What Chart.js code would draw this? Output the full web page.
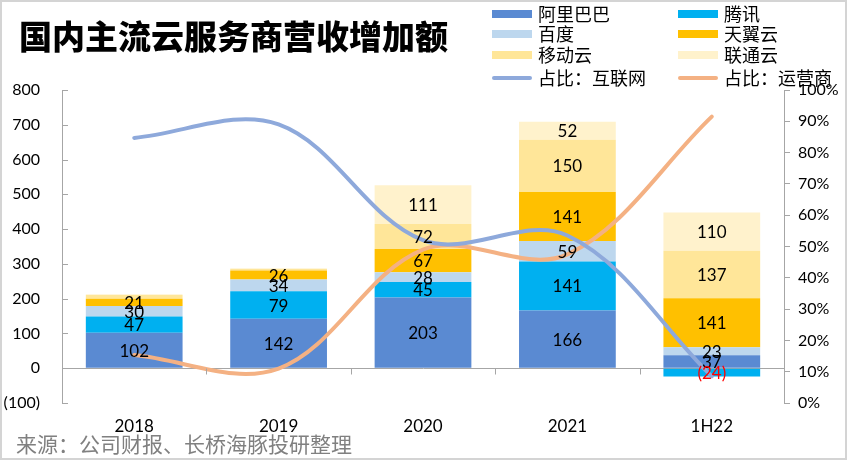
<!DOCTYPE html>
<html>
<head>
<meta charset="utf-8">
<script src="https://cdn.jsdelivr.net/npm/chart.js@4"></script>
<style>
  html,body{margin:0;padding:0;background:#fff;}
  #wrap{position:relative;width:847px;height:460px;overflow:hidden;background:#fff;}
  #frame{position:absolute;left:0;top:0;width:843px;height:456px;border:2px solid #d4d4d4;pointer-events:none;}
  #title{position:absolute;left:19px;top:11px;font-family:"Noto Sans CJK SC";font-weight:900;font-size:33px;color:#000;letter-spacing:0px;white-space:nowrap;}
  #source{position:absolute;left:16px;top:429px;font-family:"Noto Sans CJK SC";font-size:21px;color:#808080;white-space:nowrap;line-height:28px;}
  .lg{position:absolute;font-family:"Noto Sans CJK SC";font-size:18px;color:#000;white-space:nowrap;line-height:20px;}
  .sw{position:absolute;width:40px;height:8px;}
  .ln{position:absolute;width:40px;height:4px;border-radius:2px;}
  canvas{position:absolute;left:0;top:0;}
</style>
</head>
<body>
<div id="wrap">
  <canvas id="c" width="847" height="460"></canvas>
  <div id="title">国内主流云服务商营收增加额</div>
  <div id="source">来源：公司财报、长桥海豚投研整理</div>
  <div id="legend"></div>
  <div id="frame"></div>
</div>
<script>
const categories = ['2018', '2019', '2020', '2021', '1H22'];
const alibaba  = [102, 142, 203, 166, 37];
const tencent  = [47, 79, 45, 141, -24];
const baidu    = [30, 34, 28, 59, 23];
const tianyi   = [21, 26, 67, 141, 141];
const mobile   = [11, 5, 72, 150, 137];
const unicom   = [1, 1, 111, 52, 110];
const shareInternet = [0.847, 0.89, 0.52, 0.535, 0.085];
const shareOperator = [0.153, 0.11, 0.49, 0.475, 0.915];
const leftTicks = { min: -100, max: 800, step: 100 };
const rightTicks = { min: 0, max: 1, step: 0.1 };

const barSeries = [
  { name: '阿里巴巴', data: alibaba, color: '#5A8AD2' },
  { name: '腾讯', data: tencent, color: '#00B0F0' },
  { name: '百度', data: baidu, color: '#BDD7EE' },
  { name: '天翼云', data: tianyi, color: '#FFC000' },
  { name: '移动云', data: mobile, color: '#FFE699' },
  { name: '联通云', data: unicom, color: '#FFF2CC' }
];
const lineSeries = [
  { name: '占比：互联网', data: shareInternet, color: '#8EA9DB' },
  { name: '占比：运营商', data: shareOperator, color: '#F4B183' }
];

(function(){
  const lg = document.getElementById('legend');
  const items = [];
  barSeries.forEach(s => items.push({name: s.name, color: s.color, kind: 'bar'}));
  lineSeries.forEach(s => items.push({name: s.name, color: s.color, kind: 'line'}));
  const colX = [492, 678];
  const rowY = [14, 34, 55, 78];
  items.forEach((it, i) => {
    const col = i % 2, row = Math.floor(i / 2);
    const x = colX[col], y = rowY[row];
    const sw = document.createElement('div');
    sw.className = it.kind === 'bar' ? 'sw' : 'ln';
    sw.style.background = it.color;
    sw.style.left = x + 'px';
    sw.style.top = (y - (it.kind === 'bar' ? 4 : 2)) + 'px';
    lg.appendChild(sw);
    const t = document.createElement('div');
    t.className = 'lg';
    t.textContent = it.name;
    t.style.left = (x + 46) + 'px';
    t.style.top = (y - 11) + 'px';
    lg.appendChild(t);
  });
})();

const datasets = [];
barSeries.forEach(s => datasets.push({
  type: 'bar', label: s.name, data: s.data, backgroundColor: s.color,
  borderWidth: 0, stack: 's', yAxisID: 'y', order: 2,
  barPercentage: 0.67, categoryPercentage: 1.0
}));
lineSeries.forEach(s => datasets.push({
  type: 'line', label: s.name, data: s.data, borderColor: s.color,
  borderWidth: 4, pointRadius: 0, tension: 0.35, yAxisID: 'y1', order: 1,
  fill: false, borderCapStyle: 'round', borderJoinStyle: 'round'
}));

const axisColor = '#a6a6a6';
const decoPlugin = {
  id: 'deco',
  afterDraw(chart) {
    const ctx = chart.ctx;
    const ys = chart.scales.y, xs = chart.scales.x;
    const area = chart.chartArea;
    ctx.save();
    ctx.strokeStyle = axisColor;
    ctx.lineWidth = 1;
    ys.ticks.forEach(t => {
      const py = Math.round(ys.getPixelForValue(t.value)) + 0.5;
      ctx.beginPath();
      ctx.moveTo(area.left, py);
      ctx.lineTo(area.left + 6, py);
      ctx.stroke();
    });
    const zy = Math.round(ys.getPixelForValue(0)) + 0.5;
    for (let i = 0; i < categories.length - 1; i++) {
      const px = Math.round((xs.getPixelForValue(i) + xs.getPixelForValue(i + 1)) / 2) + 0.5;
      ctx.beginPath();
      ctx.moveTo(px, zy);
      ctx.lineTo(px, zy + 6);
      ctx.stroke();
    }
    ctx.font = '17px Lato, "Liberation Sans", sans-serif';
    ctx.textAlign = 'center';
    ctx.textBaseline = 'middle';
    chart.data.datasets.forEach((ds, di) => {
      if (ds.type !== 'bar') return;
      const meta = chart.getDatasetMeta(di);
      meta.data.forEach((el, i) => {
        const v = ds.data[i];
        if (Math.abs(v) < 15) return;
        const p = el.getProps(['x', 'y', 'base'], true);
        const txt = v < 0 ? '(' + (-v) + ')' : String(v);
        ctx.fillStyle = v < 0 ? '#FF0000' : '#000000';
        ctx.fillText(txt, p.x, (p.y + p.base) / 2 + 1);
      });
    });
    ctx.restore();
  }
};

new Chart(document.getElementById('c'), {
  data: { labels: categories, datasets },
  options: {
    responsive: false,
    animation: false,
    devicePixelRatio: 1,
    layout: { padding: { top: 90, left: 0, right: 0, bottom: 0 } },
    plugins: { legend: { display: false }, tooltip: { enabled: false }, title: { display: false } },
    scales: {
      x: {
        stacked: true,
        grid: { display: false, drawTicks: false },
        border: { display: false },
        ticks: { color: '#000', font: { family: 'Lato', size: 17 }, padding: 13, maxRotation: 0 },
        afterFit(s) { s.height = 57; }
      },
      y: {
        stacked: true,
        position: 'left',
        min: leftTicks.min, max: leftTicks.max,
        ticks: {
          stepSize: leftTicks.step, color: '#000', padding: 22,
          font: { family: 'Lato', size: 16 },
          callback: v => v < 0 ? '(' + (-v) + ')' : String(v)
        },
        grid: {
          drawTicks: false,
          color: c => (c.tick && c.tick.value === 0) ? axisColor : 'rgba(0,0,0,0)',
          lineWidth: 1
        },
        border: { display: true, color: axisColor, width: 1 },
        afterFit(s) { s.width = 62; }
      },
      y1: {
        position: 'right',
        min: rightTicks.min, max: rightTicks.max,
        ticks: {
          stepSize: rightTicks.step, color: '#000', padding: 8,
          font: { family: 'Lato', size: 16 },
          callback: v => Math.round(v * 100) + '%'
        },
        grid: { drawOnChartArea: false, drawTicks: true, tickLength: 6, color: axisColor },
        border: { display: true, color: axisColor, width: 1 },
        afterFit(s) { s.width = 63; }
      }
    }
  },
  plugins: [decoPlugin]
});
</script>
</body>
</html>
